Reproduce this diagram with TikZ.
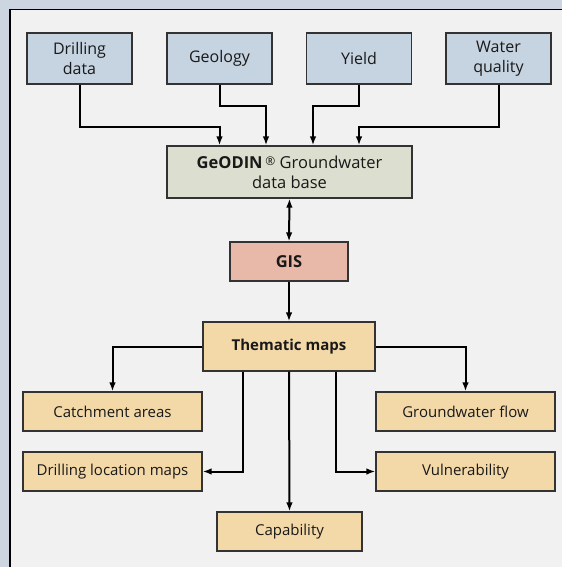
\documentclass[tikz,border=0pt]{standalone}
\usepackage{fontspec}
\setmainfont{Open Sans}
\usetikzlibrary{arrows.meta}
\definecolor{framebg}{HTML}{CDD5E1}
\definecolor{panelbg}{HTML}{F1F1F1}
\definecolor{boxline}{HTML}{333333}
\definecolor{inputfill}{HTML}{C6D3E1}
\definecolor{dbfill}{HTML}{DCDFCF}
\definecolor{gisfill}{HTML}{E8B8A8}
\definecolor{mapfill}{HTML}{F3D8A8}
\tikzset{
  box/.style={draw=boxline,line width=1.1pt,inner sep=0pt,align=center,
    text=black!90,font=\fontsize{15}{19.5}\selectfont},
  inbox/.style={box,fill=inputfill,minimum width=105pt,minimum height=51pt,
    font=\fontsize{16}{19.5}\selectfont},
  mapbox/.style={box,fill=mapfill,minimum width=179pt,minimum height=39pt},
  conn/.style={line width=2pt,->},
  >={Latex[length=9pt,width=6.5pt]}
}
\begin{document}
\begin{tikzpicture}[x=1pt,y=-1pt,line join=miter]
  \useasboundingbox (0,0) rectangle (562,567);
  % frame
  \fill[framebg] (0,0) rectangle (562,567);
  \fill[panelbg] (10,9) rectangle (562,567);
  \draw[line width=0.9pt] (10,9) -- (562,9);
  \draw[line width=1.8pt] (10,9) -- (10,567);
  % data sources
  \node[inbox] (drill) at (79.5,58.5) {Drilling\\data};
  \node[inbox] (geol)  at (219.5,58.5) {Geology};
  \node[inbox] (yield) at (359,58.5) {Yield};
  \node[inbox] (water) at (498.5,58.5) {Water\\quality};
  \node[box,fill=dbfill,minimum width=245pt,minimum height=52pt,font=\fontsize{16.5}{20}\selectfont] (db) at (289.5,172)
    {\textbf{GeODIN}\,{\fontsize{12}{12}\selectfont\raisebox{3pt}{®}} Groundwater\\data base};
  \node[box,fill=gisfill,minimum width=118pt,minimum height=39pt,font=\fontsize{16.5}{19}\selectfont\bfseries] (gis) at (289,261.5) {GIS};
  \node[box,fill=mapfill,minimum width=172pt,minimum height=49pt,font=\fontsize{15}{19}\selectfont\bfseries] (them) at (289,346.5) {Thematic maps};
  % map products
  \node[mapbox] (catch)    at (112.5,411.5) {Catchment areas};
  \node[mapbox] (drillmap) at (112.5,471.5) {Drilling location maps};
  \node[mapbox] (gwflow)   at (465.5,411.5) {Groundwater flow};
  \node[mapbox] (vuln)     at (465.5,471.5) {Vulnerability};
  \node[box,fill=mapfill,minimum width=145pt,minimum height=39pt] (capab) at (289.5,531.5) {Capability};
  % inputs to data base
  \draw[conn] (drill.south) -- ++(0,42) -| (geol |- db.north);
  \draw[conn] (geol.south) -- ++(0,21) -| ([xshift=-23.5pt]db.north);
  \draw[conn] (yield.south) -- ++(0,21) -| ([xshift=23.5pt]db.north);
  \draw[conn] (water.south) -- ++(0,42) -| (yield |- db.north);
  % data base, GIS, maps
  \draw[conn,<->] (db.south) -- (gis.north);
  \draw[conn] (gis.south) -- (them.north);
  \draw[conn] (them.west) -| (catch.north);
  \draw[conn] (them.east) -| (gwflow.north);
  \draw[conn] ([xshift=-46pt]them.south) |- (drillmap.east);
  \draw[conn] ([xshift=47pt]them.south) |- (vuln.west);
  \draw[conn] (them.south) -- (capab.north);
\end{tikzpicture}
\end{document}
